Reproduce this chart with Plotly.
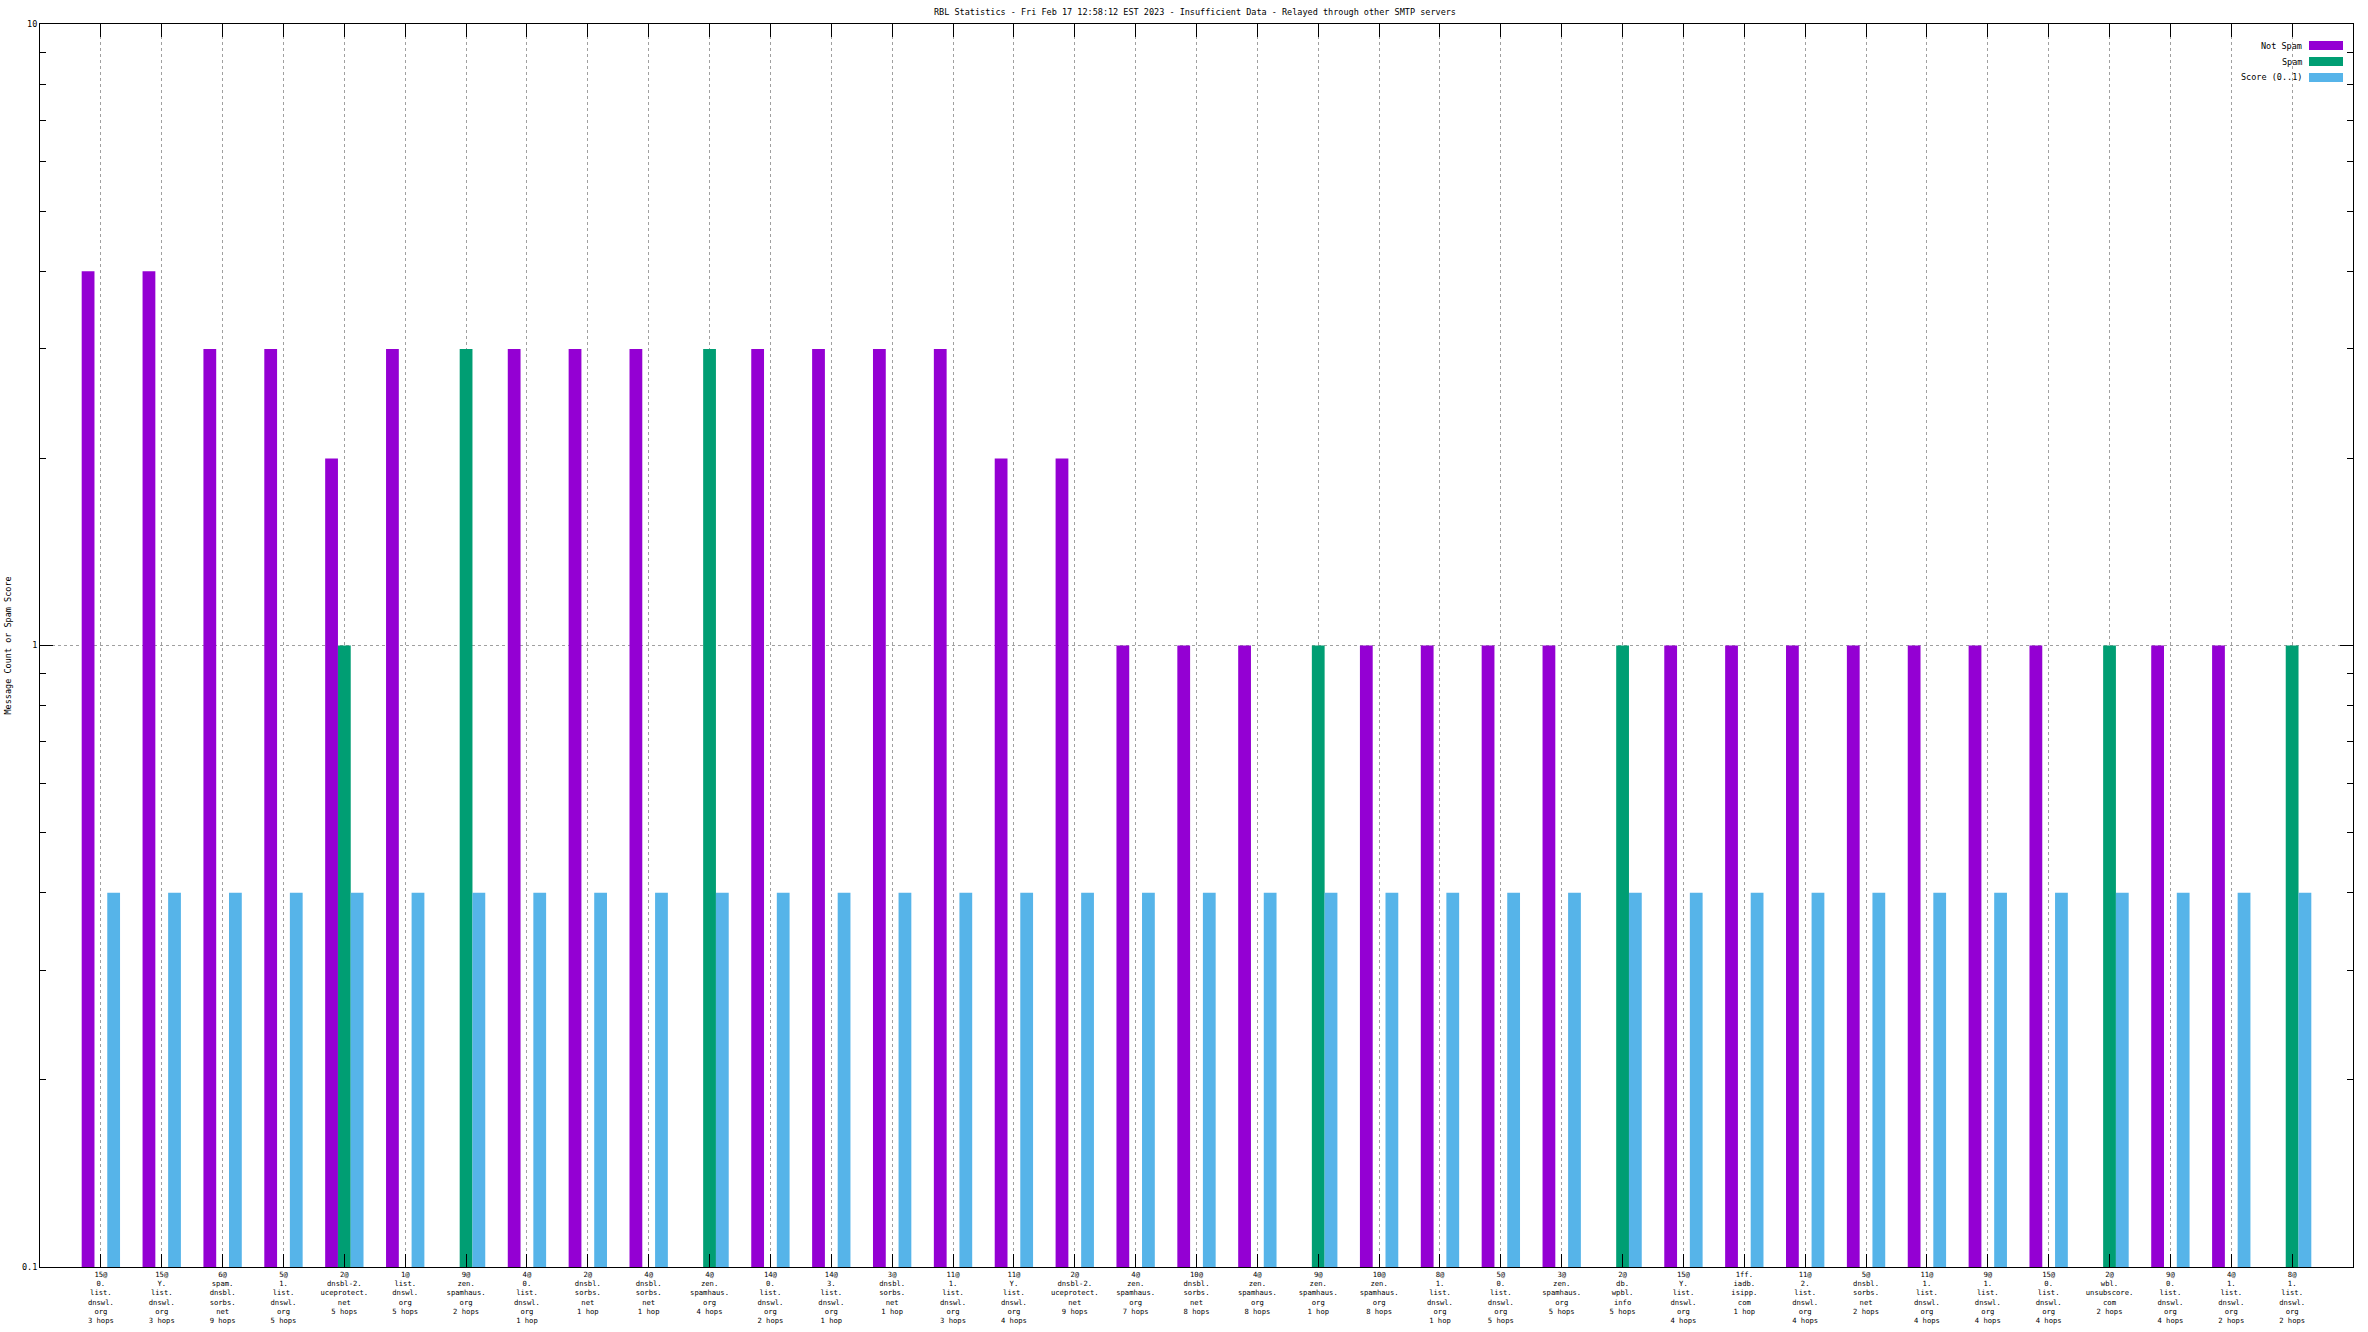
import plotly.graph_objects as go

# ---------------- data ----------------
categories = [
    "15@<br>0.<br>list.<br>dnswl.<br>org<br>3 hops",
    "15@<br>Y.<br>list.<br>dnswl.<br>org<br>3 hops",
    "6@<br>spam.<br>dnsbl.<br>sorbs.<br>net<br>9 hops",
    "5@<br>1.<br>list.<br>dnswl.<br>org<br>5 hops",
    "2@<br>dnsbl-2.<br>uceprotect.<br>net<br>5 hops",
    "1@<br>list.<br>dnswl.<br>org<br>5 hops",
    "9@<br>zen.<br>spamhaus.<br>org<br>2 hops",
    "4@<br>0.<br>list.<br>dnswl.<br>org<br>1 hop",
    "2@<br>dnsbl.<br>sorbs.<br>net<br>1 hop",
    "4@<br>dnsbl.<br>sorbs.<br>net<br>1 hop",
    "4@<br>zen.<br>spamhaus.<br>org<br>4 hops",
    "14@<br>0.<br>list.<br>dnswl.<br>org<br>2 hops",
    "14@<br>3.<br>list.<br>dnswl.<br>org<br>1 hop",
    "3@<br>dnsbl.<br>sorbs.<br>net<br>1 hop",
    "11@<br>1.<br>list.<br>dnswl.<br>org<br>3 hops",
    "11@<br>Y.<br>list.<br>dnswl.<br>org<br>4 hops",
    "2@<br>dnsbl-2.<br>uceprotect.<br>net<br>9 hops",
    "4@<br>zen.<br>spamhaus.<br>org<br>7 hops",
    "10@<br>dnsbl.<br>sorbs.<br>net<br>8 hops",
    "4@<br>zen.<br>spamhaus.<br>org<br>8 hops",
    "9@<br>zen.<br>spamhaus.<br>org<br>1 hop",
    "10@<br>zen.<br>spamhaus.<br>org<br>8 hops",
    "8@<br>1.<br>list.<br>dnswl.<br>org<br>1 hop",
    "5@<br>0.<br>list.<br>dnswl.<br>org<br>5 hops",
    "3@<br>zen.<br>spamhaus.<br>org<br>5 hops",
    "2@<br>db.<br>wpbl.<br>info<br>5 hops",
    "15@<br>Y.<br>list.<br>dnswl.<br>org<br>4 hops",
    "1ff.<br>iadb.<br>isipp.<br>com<br>1 hop",
    "11@<br>2.<br>list.<br>dnswl.<br>org<br>4 hops",
    "5@<br>dnsbl.<br>sorbs.<br>net<br>2 hops",
    "11@<br>1.<br>list.<br>dnswl.<br>org<br>4 hops",
    "9@<br>1.<br>list.<br>dnswl.<br>org<br>4 hops",
    "15@<br>0.<br>list.<br>dnswl.<br>org<br>4 hops",
    "2@<br>wbl.<br>unsubscore.<br>com<br>2 hops",
    "9@<br>0.<br>list.<br>dnswl.<br>org<br>4 hops",
    "4@<br>1.<br>list.<br>dnswl.<br>org<br>2 hops",
    "8@<br>1.<br>list.<br>dnswl.<br>org<br>2 hops",
]

not_spam = [4, 4, 3, 3, 2, 3, 0, 3, 3, 3, 0, 3, 3, 3, 3, 2, 2, 1, 1, 1,
            0, 1, 1, 1, 1, 0, 1, 1, 1, 1, 1, 1, 1, 0, 1, 1, 0]
spam = [0, 0, 0, 0, 1, 0, 3, 0, 0, 0, 3, 0, 0, 0, 0, 0, 0, 0, 0, 0,
        1, 0, 0, 0, 0, 1, 0, 0, 0, 0, 0, 0, 0, 1, 0, 0, 1]
score = [0.4] * len(categories)

series_names = ["Not Spam", "Spam", "Score (0..1)"]
series_colors = ["#9400D3", "#009E73", "#56B4E9"]

y_tickvals = [0.1, 1, 10]
y_ticktext = ["0.1", "1", "10"]

title_text = "RBL Statistics - Fri Feb 17 12:58:12 EST 2023 - Insufficient Data - Relayed through other SMTP servers"
y_title = "Message Count or Spam Score"

# ---------------- figure ----------------
W, H = 2368, 1332
ML, MR, MT, MB = 40, 15, 24, 65
PW, PH = W - ML - MR, H - MT - MB
FONT = "DejaVu Sans Mono"

x = list(range(len(categories)))

def nz(v):
    return [val if val > 0 else None for val in v]

fig = go.Figure()
for name, vals, col in zip(series_names, [not_spam, spam, score], series_colors):
    fig.add_trace(go.Bar(x=x, y=nz(vals), name=name, marker=dict(color=col, line=dict(width=0)),
                         showlegend=False))

# custom gnuplot-style legend (text left, swatch right)
annotations = []
shapes = []
for i, (name, col) in enumerate(zip(series_names, series_colors)):
    yc = 45.5 + 16 * i
    annotations.append(dict(
        xref="paper", yref="paper", x=(2304 - ML) / PW, y=1 - (yc - MT) / PH,
        text=name, showarrow=False, xanchor="right", yanchor="middle",
        font=dict(family=FONT, size=8.5, color="black")))
    shapes.append(dict(
        type="rect", xref="paper", yref="paper",
        x0=(2309 - ML) / PW, x1=(2343 - ML) / PW,
        y0=1 - (yc + 4.5 - MT) / PH, y1=1 - (yc - 4.5 - MT) / PH,
        fillcolor=col, line=dict(width=0)))

annotations.append(dict(
    xref="paper", yref="paper", x=(7 - ML) / PW, y=0.5, text=y_title, textangle=-90,
    showarrow=False, xanchor="center", yanchor="middle",
    font=dict(family=FONT, size=8.5, color="black")))

fig.update_layout(
    width=W, height=H,
    margin=dict(l=ML, r=MR, t=MT, b=MB, autoexpand=False),
    paper_bgcolor="white", plot_bgcolor="white",
    barmode="group", bargap=0.37, bargroupgap=0,
    font=dict(family=FONT, size=8.5, color="black"),
    title=dict(text=title_text, x=(1195) / W, xanchor="center", y=1 - 12 / H, yanchor="middle",
               font=dict(family=FONT, size=8.5, color="black")),
    annotations=annotations,
    shapes=shapes,
    showlegend=False,
)

fig.update_xaxes(
    range=[-1, len(categories)], tickmode="array", tickvals=x, ticktext=categories,
    tickangle=0, tickfont=dict(family=FONT, size=7.2, color="black"),
    ticks="inside", ticklen=13, tickcolor="black", tickwidth=1,
    showline=True, linecolor="black", linewidth=1, mirror="ticks",
    showgrid=True, gridcolor="#A0A0A0", gridwidth=1, griddash="3px,3px",
    zeroline=False,
)
fig.update_yaxes(
    type="log", range=[-1, 1], tickmode="array", tickvals=y_tickvals, ticktext=y_ticktext,
    tickfont=dict(family=FONT, size=8.5, color="black"),
    ticks="inside", ticklen=13, tickcolor="black", tickwidth=1,
    minor=dict(tickmode="array", tickvals=[0.2, 0.3, 0.4, 0.5, 0.6, 0.7, 0.8, 0.9,
                                           2, 3, 4, 5, 6, 7, 8, 9],
               ticks="inside", ticklen=6, tickcolor="black", showgrid=False),
    showline=True, linecolor="black", linewidth=1, mirror="ticks",
    showgrid=True, gridcolor="#A0A0A0", gridwidth=1, griddash="3px,3px",
    zeroline=False,
)

fig.write_html(
    "out.html",
    config={"displayModeBar": False},
    post_script="document.body.style.margin='0';document.body.style.padding='0';"
                "document.body.style.overflow='hidden';",
)
